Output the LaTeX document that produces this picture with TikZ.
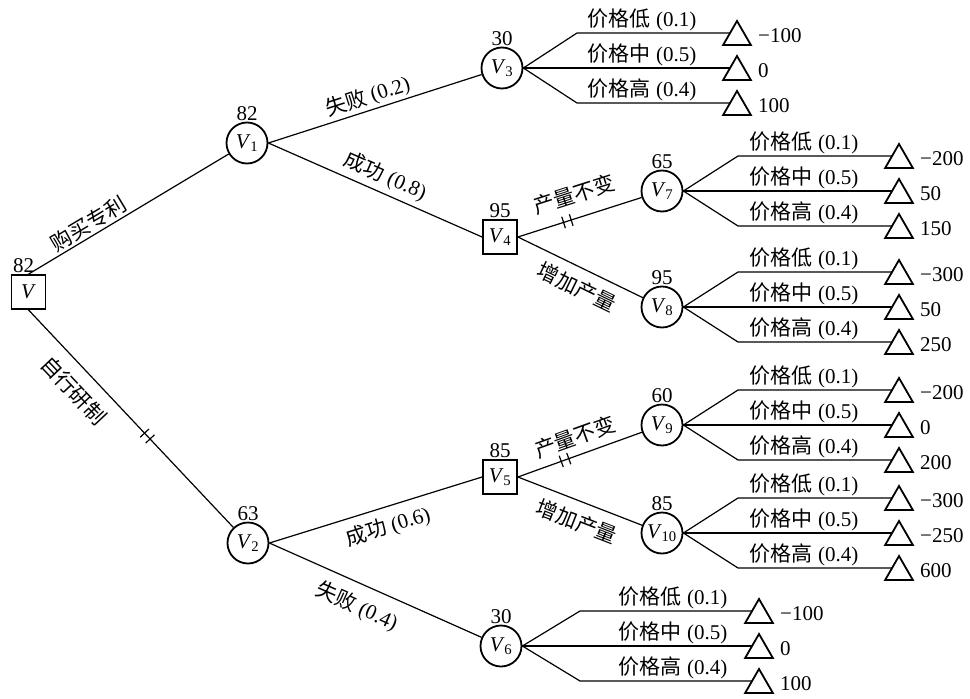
\documentclass[tikz,border=0pt]{standalone}
\usepackage{fontspec}
\setmainfont{Liberation Serif}
\newfontfamily\cjk{Noto Sans CJK SC}
\usetikzlibrary{shapes.geometric,decorations.markings}
\newcommand\vsub[1]{\textit{V}\kern-0.5pt\textsubscript{#1}}
\tikzset{
  edge/.style={line width=1.2pt},
  chance/.style={circle, draw, line width=1.8pt, minimum size=41pt, inner sep=0pt, label distance=3pt},
  decision/.style={rectangle, draw, line width=1.8pt, minimum size=34pt, inner sep=0pt, label distance=3pt},
  leaf/.style={regular polygon, regular polygon sides=3, draw, line width=1.8pt, minimum size=32pt, inner sep=0pt, outer sep=0pt},
  every label/.style={inner sep=1pt},
  val/.style={anchor=west, inner sep=1pt},
  plab/.style={inner sep=0pt},
  elab/.style={sloped, inner sep=1pt},
  ticks at/.style={postaction={decorate, decoration={markings, mark=at position #1 with {\draw[line width=1.2pt] (-4pt,-6pt) -- (-4pt,6pt) (4pt,-6pt) -- (4pt,6pt);}}}},
}
% #1 node, #2 centre y, #3 bend x, #4 triangle centre x, #5 label centre x, #6-#8 values
\newcommand\outcomes[8]{%
  \foreach \dy/\grade/\prob/\val/\k in {-35/低/0.1/#6/a, 0/中/0.5/#7/b, 35/高/0.4/#8/c}{%
    \coordinate (#1\k) at (#3, {#2+\dy});
    \node[leaf] (#1t\k) at (#4, {#2+\dy+4}) {};
    \node[val] (#1v\k) at ({#4+20}, {#2+\dy+3}) {\val};
    \node[plab] (#1p\k) at (#5, {#2+\dy-13}) {{\cjk 价格\grade} (\prob)};
    \draw[edge] (#1.east) -- (#1\k) -- (#1t\k.side 1);
  }%
}
\begin{document}
\begin{tikzpicture}[x=1pt, y=-1pt, font=\fontsize{21}{25}\selectfont]
\useasboundingbox (0,0) rectangle (970,699);
% nodes
\node[decision, label={[xshift=-5pt]above:82}] (V) at (28.5,292) {\textit{V}};
\node[chance, label={above:82}] (V1) at (247,143) {\vsub{1}};
\node[chance, label={above:63}] (V2) at (248,543) {\vsub{2}};
\node[chance, label={above:30}] (V3) at (502,68) {\vsub{3}};
\node[decision, label={above:95}] (V4) at (500,237) {\vsub{4}};
\node[decision, label={above:85}] (V5) at (500,477) {\vsub{5}};
\node[chance, label={above:30}] (V6) at (501,646) {\vsub{6}};
\node[chance, label={above:65}] (V7) at (662,191) {\vsub{7}};
\node[chance, label={above:95}] (V8) at (662,307) {\vsub{8}};
\node[chance, label={above:60}] (V9) at (662,425) {\vsub{9}};
\node[chance, label={above:85}] (V10) at (662,533) {\vsub{10}};
% main edges
\draw[edge] (V.north) -- node[elab, pos=0.33, above=1pt] {\cjk 购买专利} (V1);
\draw[edge, ticks at=0.58] (V.south) -- node[elab, pos=0.30, below=11pt] {\cjk 自行研制} (V2);
\draw[edge] (V1.east) -- node[elab, pos=0.485, above=1pt] {{\cjk 失败} (0.2)} (V3);
\draw[edge] (V1.east) -- node[elab, pos=0.516, above=4pt] {{\cjk 成功} (0.8)} (V4.west);
\draw[edge] (V2.east) -- node[elab, pos=0.53, below=7pt] {{\cjk 成功} (0.6)} (V5.west);
\draw[edge] (V2.east) -- node[elab, pos=0.455, below=10pt] {{\cjk 失败} (0.4)} (V6);
\draw[edge, ticks at=0.40] (V4.east) -- node[elab, pos=0.51, above=12pt] {\cjk 产量不变} (V7);
\draw[edge] (V4.east) -- node[elab, pos=0.54, below=8pt] {\cjk 增加产量} (V8);
\draw[edge, ticks at=0.38] (V5.east) -- node[elab, pos=0.51, above=7pt] {\cjk 产量不变} (V9);
\draw[edge] (V5.east) -- node[elab, pos=0.535, below=9pt] {\cjk 增加产量} (V10);
% outcome branches
\outcomes{V3}{68}{577}{737}{642}{−100}{0}{100}
\outcomes{V6}{646}{580}{759}{673}{−100}{0}{100}
\outcomes{V7}{191}{738}{899}{804}{−200}{50}{150}
\outcomes{V8}{307}{738}{899}{804}{−300}{50}{250}
\outcomes{V9}{425}{738}{899}{804}{−200}{0}{200}
\outcomes{V10}{533}{738}{899}{804}{−300}{−250}{600}
\end{tikzpicture}
\end{document}
